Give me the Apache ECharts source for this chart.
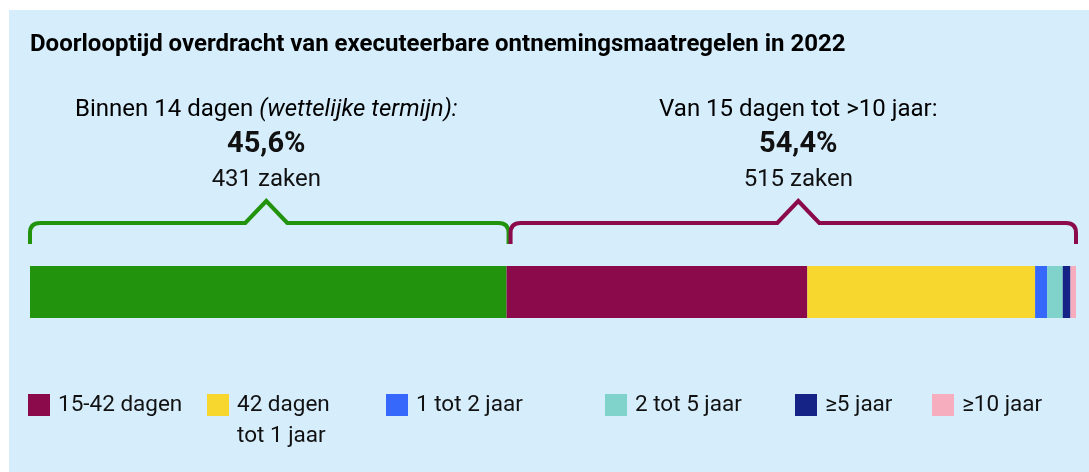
<!DOCTYPE html>
<html>
<head>
<meta charset="utf-8">
<script src="https://cdn.jsdelivr.net/npm/echarts@6/dist/echarts.min.js"></script>
<style>
  html, body { margin: 0; padding: 0; background: #ffffff; }
  #chart { position: absolute; left: 9px; top: 10px; width: 1080px; height: 462px; background: #d6edfb; }
</style>
</head>
<body>
<div id="chart"></div>
<script>
// ---- data ----
const titleText = 'Doorlooptijd overdracht van executeerbare ontnemingsmaatregelen in 2022';
const categories = ['Binnen 14 dagen', '15-42 dagen', '42 dagen tot 1 jaar', '1 tot 2 jaar', '2 tot 5 jaar', '≥5 jaar', '≥10 jaar'];
const values = [431, 272, 206, 11, 14, 7, 5];
const colors = ['#22930c', '#8a0a4b', '#f7d72e', '#3668fb', '#7fd3ca', '#142385', '#f6aebf'];
const legendLabels = ['15-42 dagen', '42 dagen\ntot 1 jaar', '1 tot 2 jaar', '2 tot 5 jaar', '≥5 jaar', '≥10 jaar'];
// groups: first category alone, then the rest
const groupRanges = [[0, 1], [1, 7]];
const groupHeadMain = ['Binnen 14 dagen ', 'Van 15 dagen tot >10 jaar:'];
const groupHeadItalic = ['(wettelijke termijn):', ''];
const groupPercents = ['45,6%', '54,4%'];
const groupCounts = ['431 zaken', '515 zaken'];
const groupColors = ['#22930c', '#8a0a4b'];

// ---- build ----
const total = values.reduce((a, b) => a + b, 0);
const cum = [0];
values.forEach(v => cum.push(cum[cum.length - 1] + v));
const bracketData = groupRanges.map((r, i) => [cum[r[0]], cum[r[1]], i]);

const FONT = 'Roboto, "Noto Sans", sans-serif';
const barSeries = categories.map((c, i) => ({
  type: 'bar', name: c, stack: 'total', barWidth: 52,
  data: [values[i]],
  itemStyle: { color: colors[i] },
  emphasis: { disabled: true },
  silent: true
}));

const legendLefts = [19, 198, 377, 596, 786, 923];
const LEG_C = 395; // icon centre (local px)
const legends = legendLabels.map((lab, i) => {
  const multi = lab.indexOf('\n') >= 0;
  return {
    data: [categories[i + 1]],
    left: legendLefts[i], top: multi ? LEG_C - 48.5 : LEG_C - 17.5,
    padding: 0,
    icon: 'rect', itemWidth: 22, itemHeight: 22,
    selectedMode: false,
    // multi-line label: a leading empty line keeps the first text line level with the icon
    formatter: () => (multi ? '\n' + lab : lab),
    textStyle: {
      fontFamily: FONT, fontSize: 22.5, color: '#111',
      lineHeight: 31,
      padding: [4, 0, 0, 3]
    }
  };
});

const bracketSeries = {
  type: 'custom', silent: true, clip: false, z: 5,
  data: bracketData,
  renderItem: function (params, api) {
    const s = api.value(0), e = api.value(1), gi = api.value(2);
    let x0 = api.coord([s, 0])[0];
    let x1 = api.coord([e, 0])[0];
    if (gi > 0) { x0 += 4; } else { x1 += 2; }
    const cx = (x0 + x1) / 2 + (gi > 0 ? 5 : -3);
    const yH = 213, yEnd = 234, yPeak = 191, r = 10, hw = 21;
    const d = 'M' + x0 + ' ' + yEnd + ' L' + x0 + ' ' + (yH + r) +
      ' Q' + x0 + ' ' + yH + ' ' + (x0 + r) + ' ' + yH +
      ' L' + (cx - hw) + ' ' + yH + ' L' + cx + ' ' + yPeak + ' L' + (cx + hw) + ' ' + yH +
      ' L' + (x1 - r) + ' ' + yH +
      ' Q' + x1 + ' ' + yH + ' ' + x1 + ' ' + (yH + r) + ' L' + x1 + ' ' + yEnd;
    const col = groupColors[gi];
    const head = groupHeadItalic[gi] ? '{n|' + groupHeadMain[gi] + '}{i|' + groupHeadItalic[gi] + '}' : '{n|' + groupHeadMain[gi] + '}';
    return {
      type: 'group',
      children: [
        { type: 'path', shape: { pathData: d },
          style: { stroke: col, lineWidth: 4, fill: null, lineJoin: 'miter' } },
        { type: 'text', x: cx, y: 100,
          style: { text: head, align: 'center', verticalAlign: 'middle',
            rich: {
              n: { fontFamily: FONT, fontSize: 24, color: '#111' },
              i: { fontFamily: FONT, fontSize: 24, fontStyle: 'italic', color: '#111' }
            } } },
        { type: 'text', x: cx, y: 135,
          style: { text: groupPercents[gi], align: 'center', verticalAlign: 'middle',
            fontFamily: FONT, fontSize: 29, fontWeight: 'bold', fill: '#111' } },
        { type: 'text', x: cx, y: 170,
          style: { text: groupCounts[gi], align: 'center', verticalAlign: 'middle',
            fontFamily: FONT, fontSize: 24, fill: '#111' } }
      ]
    };
  }
};

const chart = echarts.init(document.getElementById('chart'), null, { renderer: 'canvas' });
chart.setOption({
  backgroundColor: 'transparent',
  animation: false,
  title: {
    text: titleText, left: 21, top: 23, padding: 0,
    textStyle: { fontFamily: FONT, fontSize: 24, fontWeight: 'bold', color: '#000' }
  },
  legend: legends,
  grid: { left: 21, right: 13, top: 256, height: 52 },
  xAxis: { type: 'value', min: 0, max: total, show: false },
  yAxis: { type: 'category', data: ['2022'], show: false },
  series: barSeries.concat([bracketSeries])
});
</script>
</body>
</html>
